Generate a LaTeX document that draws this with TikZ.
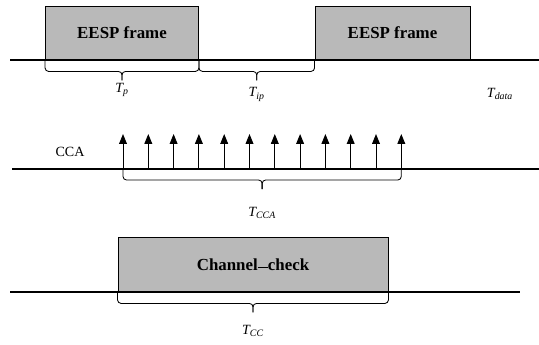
\documentclass[tikz,border=0pt]{standalone}
\usepackage{fontspec}
\setmainfont{Liberation Serif}
\usetikzlibrary{arrows.meta,calc,positioning}
\tikzset{
    frame/.style={draw=black, line width=0.6pt, fill=gray!55, font=\bfseries\large, inner sep=0pt},
    timeline/.style={draw=black, line width=0.8pt},
    bracket/.style={draw=black, line width=0.6pt, rounded corners=2.5pt},
    tick/.style={-{Triangle[length=7pt,width=5.5pt]}, line width=0.7pt},
    tlabel/.style={font=\itshape, inner sep=1pt}
}

\begin{document}
\begin{tikzpicture}[x=0.025cm, y=-0.025cm]
        \useasboundingbox (0,0) rectangle (539,344);
        % first row: two frames
        \node[frame, minimum width=3.825cm, minimum height=1.35cm] (f1) at (122,33) {EESP frame};
        \node[frame, minimum width=3.875cm, minimum height=1.35cm] (f2) at (392.5,33) {EESP frame};
        \coordinate (l1a) at (10,60);
        \coordinate (l1b) at (539,60);
        \draw[timeline] (l1a) -- (l1b);
        % second row: CCA ticks
        \coordinate (l2a) at (12,169);
        \coordinate (l2b) at (539,169);
        \draw[timeline] (l2a) -- (l2b);
        \foreach \i in {0,...,11}{
            \coordinate (a\i) at (123+25.3*\i,169);
            \coordinate (t\i) at (123+25.3*\i,134);
            \draw[tick] (a\i) -- (t\i);
        }
        \node (ccalab) at (70,152) {CCA};
        % third row: channel check
        \node[frame, minimum width=6.75cm, minimum height=1.375cm] (cc) at (253,264.5) {Channel\raisebox{0.3ex}{\rule{0.6em}{0.5pt}}check};
        \coordinate (l3a) at (10,292);
        \coordinate (l3b) at (520,292);
        \draw[timeline] (l3a) -- (l3b);
        % braces
        \foreach \a/\b/\n in {f1.south west/f1.south east/btp, f1.south east/f2.south west/btip, a0/a11/bcca, cc.south west/cc.south east/btcc}{
            \draw[bracket] (\a) -- ++(0,11) -- ($(\a)!0.5!(\b)+(0,11)$) -- ++(0,9) coordinate (\n);
            \draw[bracket] (\b) -- ++(0,11) -- ($(\a)!0.5!(\b)+(0,11)$) -- ++(0,9);
        }
        \node[tlabel, below=1pt of btp] (ltp) {T\textsubscript{p}};
        \node[tlabel, below=4pt of btip] (ltip) {T\textsubscript{ip}};
        \node[tlabel] (ldata) at (500,94) {T\textsubscript{data}};
        \node[tlabel, below=12pt of bcca] (lcca) {T\textsubscript{CCA}};
        \node[tlabel, below=8pt of btcc] (lcc) {T\textsubscript{CC}};
    \end{tikzpicture}
\end{document}
